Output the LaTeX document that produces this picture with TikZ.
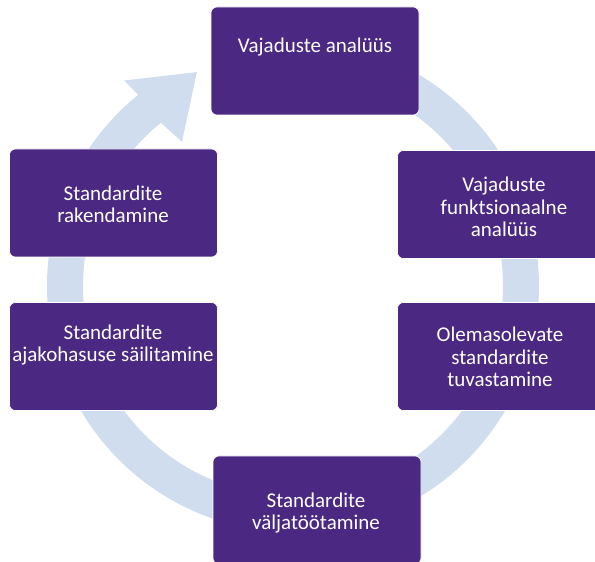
\documentclass[tikz,border=0pt]{standalone}
\usepackage{fontspec}
\setmainfont{Carlito}
\definecolor{boxpurple}{HTML}{4B2882}
\definecolor{ringblue}{HTML}{D0DDEE}
\begin{document}
\begin{tikzpicture}[x=1pt,y=1pt,
  stepbox/.style={fill=boxpurple, draw=white, line width=0.6pt, rounded corners=6pt,
    minimum width=208pt, minimum height=108pt, inner sep=0pt},
  steptext/.style={text=white, align=center, anchor=base, inner sep=0pt,
    font=\fontsize{21}{22.8}\selectfont}]
\useasboundingbox (0,0) rectangle (595,562);
\clip (0,0) rectangle (595,562);
% circular arrow behind the boxes
\begin{scope}[shift={(293,276)}]
  \fill[ringblue] (90:246) arc[start angle=90, end angle=-231, radius=246]
    -- (129.4:266) -- (114.2:234.5) -- (127.6:182) -- (-231:210)
    arc[start angle=-231, end angle=90, radius=210] -- cycle;
\end{scope}
% process steps
\node[stepbox] (b1) at (315,501) {};
\node[stepbox] (b2) at (501.5,357.5) {};
\node[stepbox] (b3) at (501.5,205.5) {};
\node[stepbox] (b4) at (317,52) {};
\node[stepbox] (b5) at (113.5,205.5) {};
\node[stepbox] (b6) at (113.5,359) {};
% labels, placed by the baseline of their last line
\node[steptext] (t1) at (315,509) {Vajaduste analüüs};
\node[steptext] (t2) at (504,325) {Vajaduste\\funktsionaalne\\analüüs};
\node[steptext] (t3) at (500,175) {Olemasolevate\\standardite\\tuvastamine};
\node[steptext] (t4) at (316,32) {Standardite\\väljatöötamine};
\node[steptext] (t5) at (113,200) {Standardite\\ajakohasuse säilitamine};
\node[steptext] (t6) at (113,339) {Standardite\\rakendamine};
\end{tikzpicture}
\end{document}
